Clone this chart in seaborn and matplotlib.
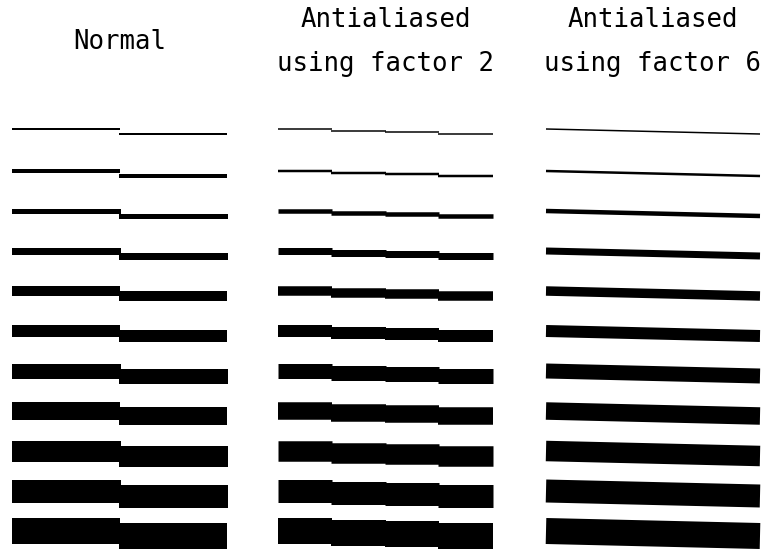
import matplotlib
matplotlib.use("Agg")
import matplotlib.pyplot as plt
import numpy as np
import pandas as pd
import seaborn as sb

# values (pixels)
row_y = [129, 171, 211, 251, 291, 331, 371, 411, 451, 491, 531]
row_width = [1.5, 2.5, 4.5, 7, 9.5, 12, 15, 17.5, 20.5, 23, 26]
drop = 5

col_titles = ["Normal", "Antialiased\nusing factor 2", "Antialiased\nusing factor 6"]
col_x0 = [12, 278, 546]
col_x1 = [227, 493, 760]
col_steps = [2, 4, 0]          # 0 -> smooth line
col_aa = [False, True, True]

sb.set_style("white")
plt.rcParams["font.family"] = ["DejaVu Sans Mono"]

fig = plt.figure(figsize=(7.63, 5.49), dpi=100)
ax = fig.add_axes([0, 0, 1, 1])
px = 72 / fig.dpi


def one_line(x0, x1, y, w, steps, aa):
    # each flat piece is its own segment, so no vertical joins are drawn
    if steps:
        edges = np.linspace(x0, x1, steps + 1)
        left = edges[:-1].copy()
        right = edges[1:].copy()
        left[1:] -= 1          # small overlap so no seam shows
        levels = np.linspace(y, y + drop, steps)
        xs = np.ravel(np.column_stack([left, right]))
        ys = np.repeat(levels, 2)
        seg = np.repeat(np.arange(steps), 2)
    else:
        xs = [x0, x1]
        ys = [y, y + drop]
        seg = [0, 0]
    df = pd.DataFrame({"x": xs, "y": ys, "seg": seg})
    sb.lineplot(data=df, x="x", y="y", units="seg", estimator=None, ax=ax,
                color="black", lw=w * px, antialiased=aa,
                solid_capstyle="butt", sort=False)


for c, title in enumerate(col_titles):
    for y, w in zip(row_y, row_width):
        one_line(col_x0[c], col_x1[c], y, w, col_steps[c], col_aa[c])
    ax.text((col_x0[c] + col_x1[c]) / 2, 42, title, ha="center", va="center",
            fontsize=18.5, linespacing=1.9, color="black")

ax.set_xlim(0, 763)
ax.set_ylim(549, 0)
ax.axis("off")
fig.savefig("out.png", dpi=100)
